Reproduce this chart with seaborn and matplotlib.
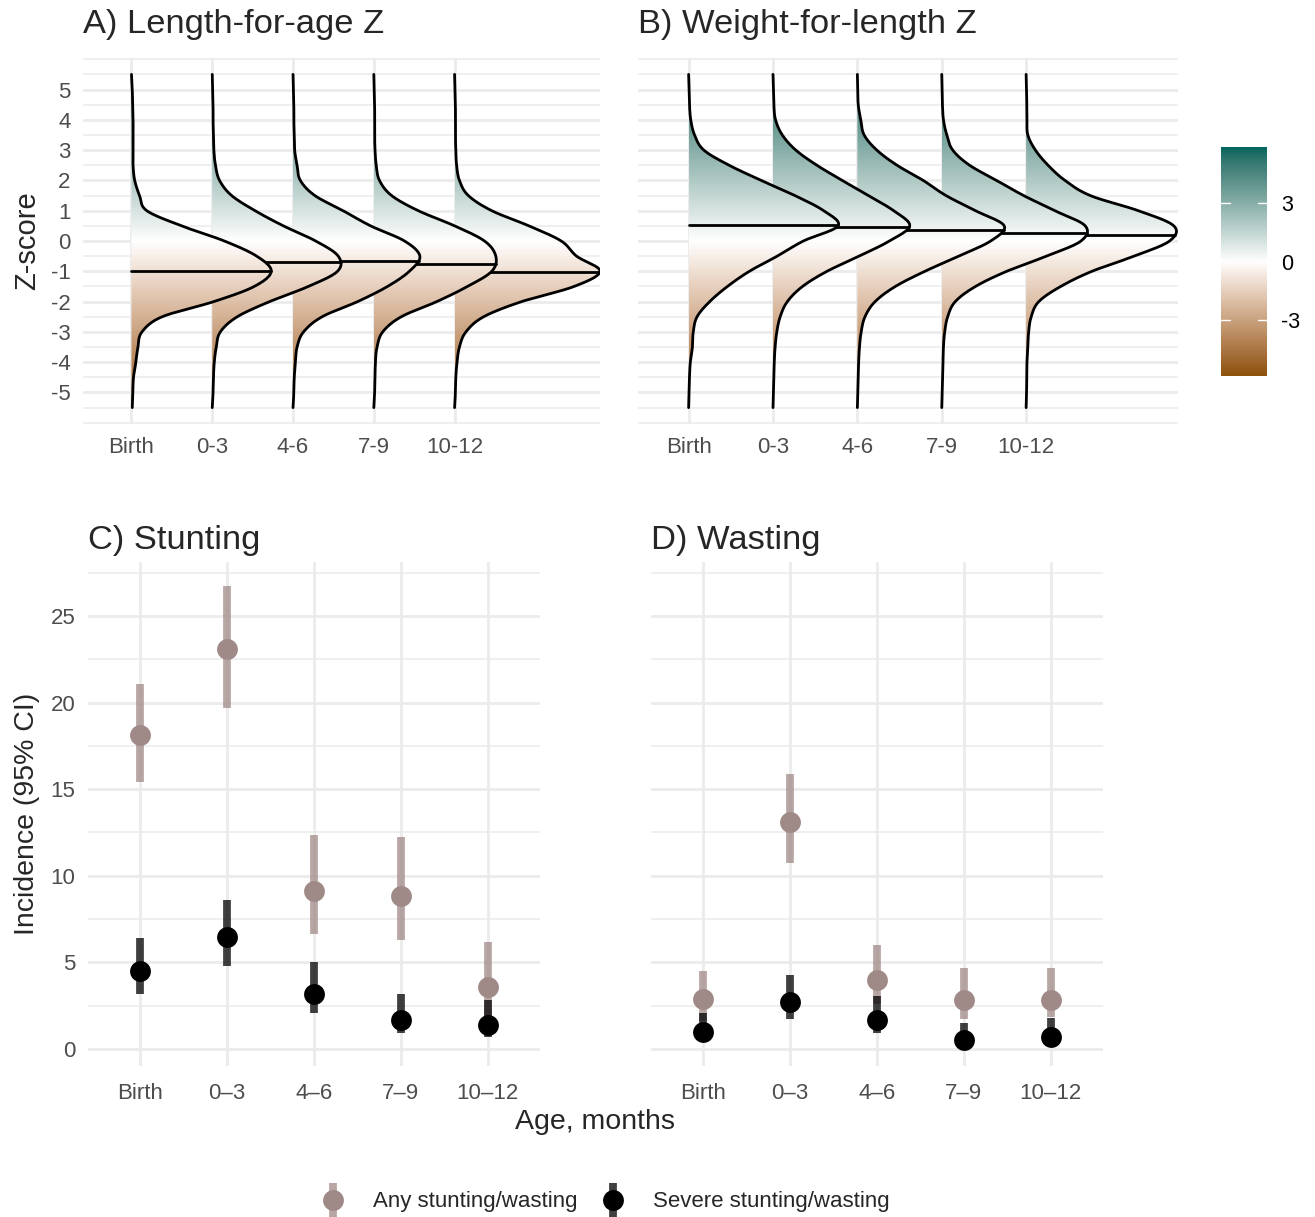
import numpy as np
import pandas as pd
import matplotlib
matplotlib.use("Agg")
import matplotlib.pyplot as plt
import matplotlib.colors as mcolors
from matplotlib.patches import Polygon
from matplotlib.lines import Line2D
from matplotlib.legend_handler import HandlerTuple
import seaborn as sns

# ---------------- data ----------------
ages_top = ["Birth", "0-3", "4-6", "7-9", "10-12"]
ages_bottom = ["Birth", "0\u20133", "4\u20136", "7\u20139", "10\u201312"]

z_grid = [5.5, 5.0, 4.5, 4.0, 3.5, 3.0, 2.5, 2.0, 1.5, 1.0, 0.5, 0.0,
          -0.5, -1.0, -1.5, -2.0, -2.5, -3.0, -3.5, -4.0, -4.5, -5.0, -5.5]

# scaled densities of length-for-age Z, one list per age group
laz_birth = [0, .01, .015, .02, .02, .02, .02, .04, .10, .19, .62, 1.15, 1.55, 1.73, 1.52, 1.02, .38, .13, .08, .055, .025, .017, .01]
laz_0_3 = [0, .005, .01, .01, .015, .02, .04, .09, .24, .53, .88, 1.28, 1.56, 1.55, 1.19, .71, .31, .10, .05, .025, .015, .01, 0]
laz_4_6 = [0, .005, .01, .01, .015, .02, .05, .09, .27, .62, .96, 1.38, 1.57, 1.44, 1.17, .80, .36, .13, .05, .03, .015, .01, 0]
laz_7_9 = [0, .005, .01, .01, .01, .015, .03, .07, .22, .55, 1.0, 1.37, 1.51, 1.46, 1.16, .78, .34, .11, .04, .02, .015, .01, 0]
laz_10_12 = [0, .005, .01, .01, .01, .015, .025, .06, .17, .46, .92, 1.32, 1.51, 1.80, 1.48, .83, .36, .14, .06, .03, .015, .01, 0]
laz_median = [-1.00, -0.70, -0.65, -0.75, -1.01]

# scaled densities of weight-for-length Z
wlz_birth = [0, .005, .01, .025, .07, .18, .48, .86, 1.26, 1.60, 1.77, 1.36, 1.05, .72, .46, .25, .10, .055, .045, .02, .01, .005, 0]
wlz_0_3 = [0, .005, .01, .03, .11, .27, .52, .82, 1.13, 1.43, 1.62, 1.38, 1.02, .64, .35, .17, .085, .045, .025, .015, .01, .005, 0]
wlz_4_6 = [0, .005, .01, .04, .08, .23, .47, .78, 1.05, 1.40, 1.74, 1.58, 1.20, .80, .45, .21, .09, .045, .025, .015, .01, .005, 0]
wlz_7_9 = [0, .005, .008, .02, .06, .13, .33, .65, .97, 1.34, 1.70, 1.65, 1.24, .77, .40, .16, .07, .035, .02, .015, .01, .005, 0]
wlz_10_12 = [0, .005, .008, .01, .02, .11, .26, .46, .76, 1.33, 1.75, 1.70, 1.28, .78, .41, .15, .06, .03, .02, .01, .008, .005, 0]
wlz_median = [0.52, 0.46, 0.36, 0.26, 0.19]

# incidence (95% CI)
series_labels = ["Any stunting/wasting", "Severe stunting/wasting"]
stunt_any_est = [18.1, 23.1, 9.1, 8.85, 3.55]
stunt_any_lo = [15.4, 19.7, 6.65, 6.3, 1.9]
stunt_any_hi = [21.1, 26.75, 12.35, 12.25, 6.15]
stunt_sev_est = [4.5, 6.45, 3.2, 1.7, 1.4]
stunt_sev_lo = [3.2, 4.8, 2.05, 0.9, 0.7]
stunt_sev_hi = [6.4, 8.6, 5.0, 3.2, 2.8]
waste_any_est = [2.9, 13.1, 4.0, 2.85, 2.8]
waste_any_lo = [1.6, 10.75, 2.6, 1.75, 1.85]
waste_any_hi = [4.5, 15.9, 6.0, 4.7, 4.7]
waste_sev_est = [1.0, 2.7, 1.65, 0.5, 0.7]
waste_sev_lo = [0.4, 1.75, 0.9, 0.2, 0.3]
waste_sev_hi = [2.1, 4.25, 3.05, 1.5, 1.8]

# ---------------- style ----------------
sns.set_theme(style="whitegrid")
plt.rcParams["font.family"] = ["Liberation Sans", "DejaVu Sans"]
GRID = "#ebebeb"
TICK_COL = "#4d4d4d"
ANY_COL = "#a08a87"

W, H = 1315, 1217
fig = plt.figure(figsize=(W / 100, H / 100), dpi=100)
fig.patch.set_facecolor("white")


def rect(l, t, r, b):
    return [l / W, 1 - b / H, (r - l) / W, (b - t) / H]


# colour map: Lab interpolation white -> brown / teal
M = np.array([[0.4124, 0.3576, 0.1805], [0.2126, 0.7152, 0.0722], [0.0193, 0.1192, 0.9505]])
Minv = np.linalg.inv(M)
WHITE_PT = np.array([0.95047, 1.0, 1.08883])


def _f(t):
    d = 6 / 29
    return np.where(t > d ** 3, np.cbrt(t), t / (3 * d * d) + 4 / 29)


def _finv(t):
    d = 6 / 29
    return np.where(t > d, t ** 3, 3 * d * d * (t - 4 / 29))


def hex_to_lab(h):
    c = np.array(mcolors.to_rgb(h))
    lin = np.where(c <= 0.04045, c / 12.92, ((c + 0.055) / 1.055) ** 2.4)
    fx, fy, fz = _f(M @ lin / WHITE_PT)
    return np.array([116 * fy - 16, 500 * (fx - fy), 200 * (fy - fz)])


def lab_to_rgb(lab):
    fy = (lab[:, 0] + 16) / 116
    fx = fy + lab[:, 1] / 500
    fz = fy - lab[:, 2] / 200
    xyz = np.stack([_finv(fx), _finv(fy), _finv(fz)], -1) * WHITE_PT
    lin = np.clip(xyz @ Minv.T, 0, None)
    srgb = np.where(lin <= 0.0031308, 12.92 * lin, 1.055 * lin ** (1 / 2.4) - 0.055)
    return np.clip(srgb, 0, 1)


lab_low, lab_mid, lab_high = hex_to_lab("#8c510a"), hex_to_lab("#ffffff"), hex_to_lab("#01665e")
v = np.linspace(-1, 1, 256)
t = np.abs(v)[:, None]
lab = np.where(v[:, None] < 0, lab_mid * (1 - t) + lab_low * t, lab_mid * (1 - t) + lab_high * t)
cmap = mcolors.ListedColormap(lab_to_rgb(lab))
ZLIM = 5.9
norm = mcolors.Normalize(-ZLIM, ZLIM)
grad = np.linspace(-ZLIM, ZLIM, 600).reshape(-1, 1)


def smooth_curve(z, d, n=14):
    z = np.asarray(z, float)
    d = np.asarray(d, float)
    dp = np.r_[2 * d[0] - d[1], d, 2 * d[-1] - d[-2]]
    tt = np.linspace(0, 1, n, endpoint=False)
    zs, ds = [], []
    for k in range(len(d) - 1):
        p0, p1, p2, p3 = dp[k], dp[k + 1], dp[k + 2], dp[k + 3]
        seg = 0.5 * (2 * p1 + (-p0 + p2) * tt + (2 * p0 - 5 * p1 + 4 * p2 - p3) * tt ** 2
                     + (-p0 + 3 * p1 - 3 * p2 + p3) * tt ** 3)
        ds.append(seg)
        zs.append(z[k] + (z[k + 1] - z[k]) * tt)
    ds.append([d[-1]])
    zs.append([z[-1]])
    return np.concatenate(zs), np.clip(np.concatenate(ds), 0, None)


def style_top(ax, show_y):
    ax.set_xlim(-0.6, 5.8)
    ax.set_ylim(-6.05, 6.05)
    ax.set_xticks(range(5))
    ax.set_xticklabels(ages_top)
    ax.set_yticks(range(-5, 6))
    ax.set_yticklabels([str(k) for k in range(-5, 6)] if show_y else [])
    ax.set_yticks([-6, -5.5, -4.5, -3.5, -2.5, -1.5, -0.5, 0.5, 1.5, 2.5, 3.5, 4.5, 5.5, 6], minor=True)
    ax.set_facecolor("white")
    ax.grid(False)
    ax.grid(which="major", axis="both", color=GRID, lw=2.0)
    ax.grid(which="minor", axis="y", color=GRID, lw=1.1)
    ax.set_axisbelow(True)
    ax.tick_params(which="both", length=0, labelsize=16, labelcolor=TICK_COL)
    ax.tick_params(axis="x", pad=9)
    ax.tick_params(axis="y", pad=9)
    for sp in ax.spines.values():
        sp.set_visible(False)


def draw_ridges(ax, dens_list, medians):
    for i in reversed(range(len(dens_list))):
        zs, ds = smooth_curve(z_grid, dens_list[i])
        xs = i + ds
        zo = 3 + (len(dens_list) - i) * 3
        verts = np.column_stack([np.r_[xs, i, i], np.r_[zs, zs[-1], zs[0]]])
        poly = Polygon(verts, closed=True, transform=ax.transData)
        im = ax.imshow(grad, extent=(i, i + 2.2, -ZLIM, ZLIM), origin="lower", cmap=cmap,
                       norm=norm, aspect="auto", interpolation="bilinear", zorder=zo)
        im.set_clip_path(poly)
        ax.plot(xs, zs, color="black", lw=2.0, zorder=zo + 1, solid_joinstyle="round")
        wm = np.interp(medians[i], zs[::-1], ds[::-1])
        ax.plot([i, i + wm], [medians[i], medians[i]], color="black", lw=2.0, zorder=zo + 2)


axA = fig.add_axes(rect(83, 57.7, 600, 424.3))
axB = fig.add_axes(rect(638, 57.7, 1178, 424.3))
draw_ridges(axA, [laz_birth, laz_0_3, laz_4_6, laz_7_9, laz_10_12], laz_median)
draw_ridges(axB, [wlz_birth, wlz_0_3, wlz_4_6, wlz_7_9, wlz_10_12], wlz_median)
style_top(axA, True)
style_top(axB, False)

# colour bar
cax = fig.add_axes(rect(1221, 147, 1267, 376))
cax.imshow(grad, extent=(0, 1, -ZLIM, ZLIM), origin="lower", cmap=cmap, norm=norm,
           aspect="auto", interpolation="bilinear")
cax.set_xlim(0, 1)
cax.set_ylim(-ZLIM, ZLIM)
cax.grid(False)
cax.set_xticks([])
cax.yaxis.tick_right()
cax.set_yticks([-3, 0, 3])
cax.set_yticklabels(["-3", "0", "3"])
cax.tick_params(length=0, labelsize=15.5, labelcolor="black", pad=10)
for sp in cax.spines.values():
    sp.set_visible(False)
for val in (-3, 0, 3):
    cax.plot([0, 0.2], [val, val], color="white", lw=1.0)
    cax.plot([0.8, 1], [val, val], color="white", lw=1.0)


# ---------------- bottom panels ----------------
def make_df(any_est, any_lo, any_hi, sev_est, sev_lo, sev_hi):
    rows = []
    for lab_, est, lo, hi in [(series_labels[0], any_est, any_lo, any_hi),
                              (series_labels[1], sev_est, sev_lo, sev_hi)]:
        for k, age in enumerate(ages_bottom):
            for val in (lo[k], est[k], hi[k]):
                rows.append({"age": age, "type": lab_, "value": val})
    return pd.DataFrame(rows)


df_stunt = make_df(stunt_any_est, stunt_any_lo, stunt_any_hi, stunt_sev_est, stunt_sev_lo, stunt_sev_hi)
df_waste = make_df(waste_any_est, waste_any_lo, waste_any_hi, waste_sev_est, waste_sev_lo, waste_sev_hi)

axC = fig.add_axes(rect(88, 562.3, 540, 1066.3))
axD = fig.add_axes(rect(651, 562.3, 1103, 1066.3))
for ax, df, show_y in [(axC, df_stunt, True), (axD, df_waste, False)]:
    sns.pointplot(data=df, x="age", y="value", hue="type", order=ages_bottom,
                  hue_order=series_labels, estimator="median",
                  errorbar=lambda s: (s.min(), s.max()), dodge=False,
                  linestyle="none", marker="o", markersize=15, markeredgewidth=0,
                  err_kws={"linewidth": 5.6, "alpha": 0.75, "solid_capstyle": "butt"},
                  palette=[ANY_COL, "black"], legend=False, ax=ax)
    ax.set_xlim(-0.6, 4.6)
    ax.set_ylim(-1.0, 28.1)
    ax.set_yticks([0, 5, 10, 15, 20, 25])
    ax.set_yticklabels(["0", "5", "10", "15", "20", "25"] if show_y else [])
    ax.set_yticks([2.5, 7.5, 12.5, 17.5, 22.5, 27.5], minor=True)
    ax.set_facecolor("white")
    ax.grid(False)
    ax.grid(which="major", axis="both", color=GRID, lw=2.0)
    ax.grid(which="minor", axis="y", color=GRID, lw=1.1)
    ax.set_axisbelow(True)
    ax.tick_params(which="both", length=0, labelsize=16, labelcolor=TICK_COL)
    ax.tick_params(axis="x", pad=12)
    ax.tick_params(axis="y", pad=9)
    ax.set_xlabel("")
    ax.set_ylabel("")
    for sp in ax.spines.values():
        sp.set_visible(False)

# ---------------- texts ----------------
TS = 24.8
fig.text(83 / W, 1 - 25 / H, "A) Length-for-age Z", ha="left", va="center", fontsize=TS)
fig.text(638 / W, 1 - 25 / H, "B) Weight-for-length Z", ha="left", va="center", fontsize=TS)
fig.text(88 / W, 1 - 540 / H, "C) Stunting", ha="left", va="center", fontsize=TS)
fig.text(651 / W, 1 - 540 / H, "D) Wasting", ha="left", va="center", fontsize=TS)
fig.text(27 / W, 1 - 241 / H, "Z-score", rotation=90, ha="center", va="center", fontsize=21)
fig.text(27 / W, 1 - 814 / H, "Incidence (95% CI)", rotation=90, ha="center", va="center", fontsize=20.5)
fig.text(595 / W, 1 - 1122 / H, "Age, months", ha="center", va="center", fontsize=20.5)

# legend
handles = []
for col in (ANY_COL, "black"):
    bar = Line2D([], [], color=col, alpha=0.75, marker="|", markersize=25,
                 markeredgewidth=5.6, linestyle="none")
    dot = Line2D([], [], color=col, marker="o", markersize=15, markeredgewidth=0, linestyle="none")
    handles.append((bar, dot))
fig.legend(handles, series_labels, loc="center", bbox_to_anchor=(606 / W, 1 - 1202 / H),
           ncol=2, frameon=False, fontsize=16,
           handler_map={tuple: HandlerTuple(ndivide=1, pad=0)},
           handlelength=1.0, handletextpad=1.3, columnspacing=1.1)

fig.savefig("out.png", dpi=100, facecolor="white")
